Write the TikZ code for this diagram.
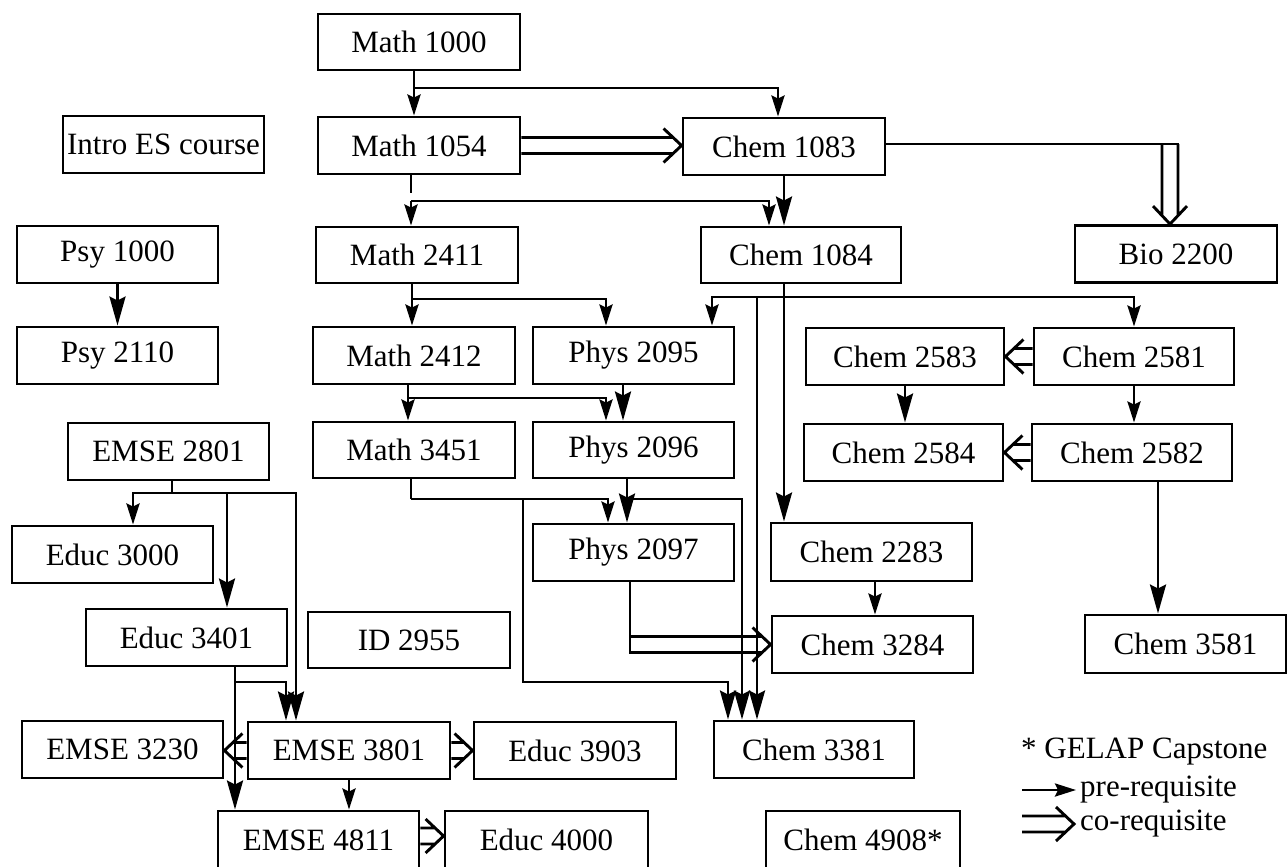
\documentclass[tikz,border=0pt]{standalone}
\usepackage{fontspec}
\setmainfont{Liberation Serif}
\usetikzlibrary{arrows.meta,calc}
\newcommand{\dgmfont}{\fontsize{31pt}{36pt}\selectfont}
% co-requisite connectors (double shaft, open head)
\newcommand{\coright}[2]{%
  \draw[coline] let \p1=(#1), \p2=(#2) in
    (\x1,{\y1+8pt}) -- ({\x2-8.5pt},{\y1+8pt})
    (\x1,{\y1-8pt}) -- ({\x2-8.5pt},{\y1-8pt})
    ({\x2-18pt},{\y1+17pt}) -- (\x2,\y1) -- ({\x2-18pt},{\y1-17pt});}
\newcommand{\coleft}[2]{%
  \draw[coline] let \p1=(#1), \p2=(#2) in
    (\x1,{\y1+8pt}) -- ({\x2+8.5pt},{\y1+8pt})
    (\x1,{\y1-8pt}) -- ({\x2+8.5pt},{\y1-8pt})
    ({\x2+18pt},{\y1+17pt}) -- (\x2,\y1) -- ({\x2+18pt},{\y1-17pt});}
\newcommand{\codown}[2]{%
  \draw[coline] let \p1=(#1), \p2=(#2) in
    ({\x1-8pt},\y1) -- ({\x1-8pt},{\y2+8.5pt})
    ({\x1+8pt},\y1) -- ({\x1+8pt},{\y2+8.5pt})
    ({\x1-17pt},{\y2+18pt}) -- (\x1,\y2) -- ({\x1+17pt},{\y2+18pt});}
\begin{document}
\begin{tikzpicture}[x=1pt,y=-1pt,
  box/.style={draw, line width=2.9pt, inner sep=0pt, minimum width=201pt, minimum height=57pt, font=\dgmfont},
  pre/.style={line width=2.9pt, -{Stealth[length=21pt,width=13pt,inset=3pt]}},
  preb/.style={line width=2.9pt, -{Stealth[length=29pt,width=16pt,inset=4pt]}},
  plain/.style={line width=2.9pt},
  coline/.style={line width=2.9pt, line cap=butt, line join=miter},
  lab/.style={font=\dgmfont, inner sep=0pt, anchor=west}]

\fill[white] (0,0) rectangle (1288,867);
\useasboundingbox (0,0) rectangle (1288,867);

% ---------- nodes ----------
\node[box, minimum width=202pt, minimum height=56pt] (m1000) at (419,42) {Math 1000};
\node[box] (intro) at (163.5,144.5) {Intro ES course};
\node[box, minimum width=202pt] (m1054) at (419,145.5) {Math 1054};
\node[box, minimum width=202pt] (c1083) at (784,146.5) {Chem 1083};
\node[box] (psy1) at (117.5,254.5) {Psy 1000};
\node[box, minimum width=202pt, minimum height=56pt] (m2411) at (417,255) {Math 2411};
\node[box, minimum width=200pt, minimum height=56pt] (c1084) at (801,255) {Chem 1084};
\node[box, minimum width=202pt] (bio) at (1176,254) {Bio 2200};
\node[box] (psy2) at (117.5,355.5) {Psy 2110};
\node[box, minimum width=202pt] (m2412) at (414,355.5) {Math 2412};
\node[box] (p2095) at (633.5,355.5) {Phys 2095};
\node[box, minimum width=198pt] (c2583) at (905,356.5) {Chem 2583};
\node[box, minimum width=200pt] (c2581) at (1134,356.5) {Chem 2581};
\node[box] (e2801) at (168.5,451.5) {EMSE 2801};
\node[box, minimum width=202pt, minimum height=56pt] (m3451) at (414,450) {Math 3451};
\node[box, minimum height=56pt] (p2096) at (633.5,450) {Phys 2096};
\node[box, minimum width=199pt] (c2584) at (903.5,452.5) {Chem 2584};
\node[box, minimum width=200pt] (c2582) at (1132,452.5) {Chem 2582};
\node[box] (ed3000) at (112.5,554.5) {Educ 3000};
\node[box] (p2097) at (633.5,552.5) {Phys 2097};
\node[box, minimum height=58pt] (c2283) at (871.5,552) {Chem 2283};
\node[box] (ed3401) at (186.5,637.5) {Educ 3401};
\node[box, minimum width=202pt, minimum height=56pt] (id) at (409,640) {ID 2955};
\node[box] (c3284) at (872.5,644.5) {Chem 3284};
\node[box, minimum height=58pt] (c3581) at (1185.5,644) {Chem 3581};
\node[box] (e3230) at (122.5,749.5) {EMSE 3230};
\node[box, minimum width=202pt] (e3801) at (349,750.5) {EMSE 3801};
\node[box, minimum width=202pt] (ed3903) at (575,750.5) {Educ 3903};
\node[box, minimum width=200pt] (c3381) at (814,749.5) {Chem 3381};
\node[box, minimum height=58pt] (e4811) at (318.5,840) {EMSE 4811};
\node[box, minimum width=203pt, minimum height=58pt] (ed4000) at (546.5,840) {Educ 4000};
\node[box, minimum width=194pt, minimum height=58pt] (c4908) at (863,840) {Chem 4908*};

% legend
\node[lab] (gelap) at (1021,752) {* GELAP Capstone};
\node[lab] (lpre) at (1080,790) {pre-requisite};
\node[lab] (lco) at (1080,824) {co-requisite};
\coordinate (lpa) at (1022,790);
\coordinate (lca) at (1022,824);
\draw[pre] (lpa) -- ($(lpre.west)+(-4,0)$);
\coright{lca}{$(lco.west)+(-6,0)$}

% ---------- connectors ----------
% Math 1000
\coordinate (j1) at (414,88);
\draw[pre] (m1000.south -| j1) -- (m1054.north -| j1);
\draw[pre] (j1) -| ($(c1083.north)+(-6,0)$);

% Math 1054 / Chem 1083
\coordinate (j2a) at (411,193);
\coordinate (j2) at (411,201);
\draw[plain] (m1054.south -| j2a) -- (j2a);
\draw[pre] (j2) -- (j2 |- m2411.north);
\draw[pre] (j2) -| ($(c1084.north)+(-32,0)$);
\draw[preb] (c1083.south) -- (c1083.south |- c1084.north);
\coright{m1054.east}{c1083.west}

% Chem 1083 -> Bio 2200
\coordinate (k4) at (1170,144);
\draw[plain] (c1083.east |- k4) -- ($(k4)+(9.4,0)$);
\codown{k4}{bio.north}

% Psy
\draw[preb] (psy1.south) -- (psy2.north);

% Math 2411
\coordinate (j3) at (412,299);
\draw[plain] (m2411.south -| j3) -- (j3);
\draw[pre] (j3) -- (j3 |- m2412.north);
\draw[pre] (j3) -| ($(p2095.north)+(-27.5,0)$);

% Chem 1084
\coordinate (j4) at (784,297);
\coordinate (j4b) at (757,297);
\draw[preb] (c1084.south -| j4) -- (j4 |- c2283.north);
\draw[pre] (j4) -| ($(p2095.north)+(78.5,0)$);
\draw[pre] (j4) -| (c2581.north);
\draw[preb] (j4b) -- (j4b |- c3381.north);

% Math 2412 / Phys 2095
\coordinate (j5) at (408,398);
\draw[plain] (m2412.south -| j5) -- (j5);
\draw[pre] (j5) -- (j5 |- m3451.north);
\draw[pre] (j5) -| ($(p2096.north)+(-27.5,0)$);
\draw[preb] ($(p2095.south)+(-10.5,0)$) -- ($(p2096.north)+(-10.5,0)$);

% Chem 258x
\draw[preb] (c2583.south) -- (c2583.south |- c2584.north);
\draw[pre] (c2581.south) -- (c2581.south |- c2582.north);
\coleft{c2581.west}{c2583.east}
\coleft{c2582.west}{c2584.east}
\draw[preb] ($(c2582.south)+(26,0)$) -- ($(c2582.south |- c3581.north)+(26,0)$);

% EMSE 2801
\coordinate (j6) at (172,493);
\coordinate (j7) at (227,493);
\draw[plain] (e2801.south -| j6) -- (j6);
\draw[pre] (j6) -| ($(ed3000.north)+(20.5,0)$);
\draw[preb] (j6) -| ($(e3801.north)+(-53,0)$);
\draw[preb] (j7) -- (j7 |- ed3401.north);

% Math 3451
\coordinate (j8) at (411,499);
\coordinate (j9) at (523,499);
\coordinate (k1) at (728,682);
\draw[plain] (m3451.south -| j8) -- (j8);
\draw[pre] (j8) -| ($(p2097.north)+(-25.5,0)$);
\draw[preb] (j9) |- (k1) -- (k1 |- c3381.north);

% Phys 2096
\coordinate (j10) at (627,499);
\draw[preb] (p2096.south -| j10) -- (j10 |- p2097.north);
\draw[preb] (j10) -| ($(c3381.north)+(-72,0)$);

% Phys 2097 -> Chem 3284 (co-requisite)
\coordinate (k2) at (630,644.5);
\draw[plain] (p2097.south -| k2) -- ($(k2)+(0,9.4)$);
\coright{k2}{c3284.west}

% Chem 2283 -> Chem 3284
\draw[pre] ($(c2283.south)+(3.5,0)$) -- ($(c3284.north)+(2.5,0)$);

% Educ 3401 / EMSE 3801
\coordinate (j11) at (235,682);
\draw[preb] (ed3401.south -| j11) -- (j11 |- e4811.north);
\draw[preb] (j11) -| ($(e3801.north)+(-63,0)$);
\draw[pre] (e3801.south) -- (e3801.south |- e4811.north);
\coleft{e3801.west}{e3230.east}
\coright{e3801.east}{ed3903.west}
\coright{$(e4811.east)+(0,-4)$}{ed4000.west}
\end{tikzpicture}
\end{document}
